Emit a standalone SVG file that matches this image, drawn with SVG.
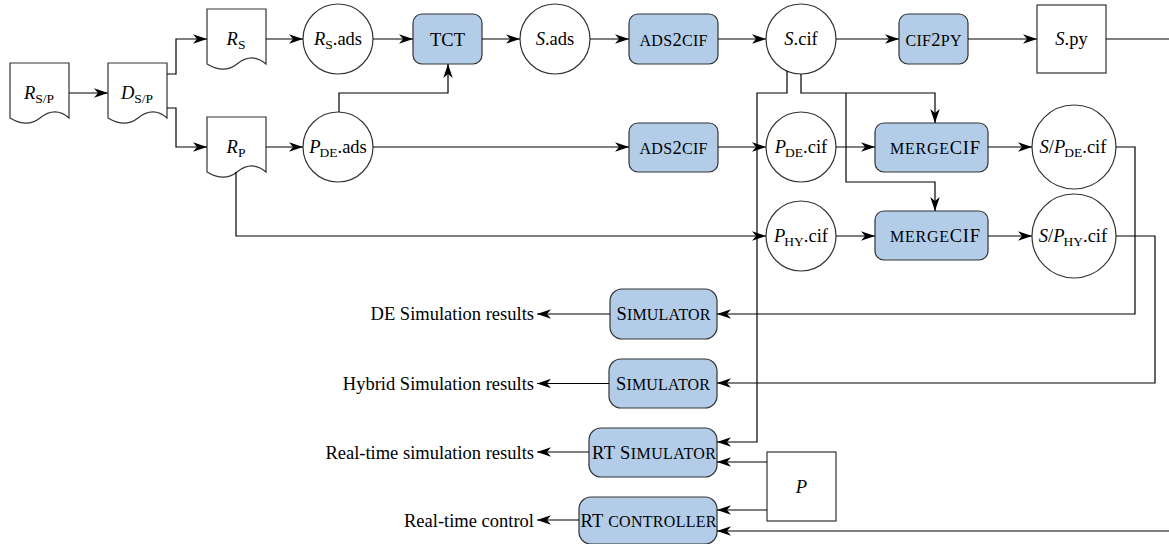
<svg xmlns="http://www.w3.org/2000/svg" width="1169" height="544" viewBox="0 0 1169 544">
<style>
text{font-family:"Liberation Serif","Times New Roman",serif;font-size:18.5px;fill:#000}
tspan{font-family:"Liberation Serif","Times New Roman",serif}
.c{text-anchor:middle}
.r{text-anchor:end}
.i{font-style:italic}
.sc{font-size:16px}
.sub{font-size:13.5px}
.doc,.circ,.sq{fill:#fff;stroke:#333;stroke-width:1.2}
.box{fill:#b3cde9;stroke:#333;stroke-width:1.2}
.con path{fill:none;stroke:#000;stroke-width:1.2}
.con path.a{marker-end:url(#ah)}
</style>
<defs>
<marker id="ah" markerUnits="userSpaceOnUse" markerWidth="16" markerHeight="12" refX="14" refY="5" orient="auto" overflow="visible">
<path d="M0,0.3 L14,5 L0,9.7 L4,5 z" fill="#000"/>
</marker>
</defs>
<rect width="1169" height="544" fill="#fff"/>

<g id="RSP"><path class="doc" d="M10,63 H69 V118 C60,110 50,110 40,118 C30,126 20,124 10,118 Z"/>
<text class="c" x="39" y="99"><tspan class="i">R</tspan><tspan class="sub" dy="4">S/P</tspan></text></g>
<g id="DSP"><path class="doc" d="M108,63 H167 V118 C158,110 148,110 138,118 C128,126 118,124 108,118 Z"/>
<text class="c" x="137" y="99"><tspan class="i">D</tspan><tspan class="sub" dy="4">S/P</tspan></text></g>
<g id="RS"><path class="doc" d="M207,9 H266 V64 C257,56 247,56 237,64 C227,72 217,70 207,64 Z"/>
<text class="c" x="236" y="45"><tspan class="i">R</tspan><tspan class="sub" dy="4">S</tspan></text></g>
<g id="RP"><path class="doc" d="M207,117 H266 V172 C257,164 247,164 237,172 C227,180 217,178 207,172 Z"/>
<text class="c" x="236" y="153"><tspan class="i">R</tspan><tspan class="sub" dy="4">P</tspan></text></g>

<g id="RSads"><circle class="circ" cx="338" cy="39" r="35"/>
<text class="c" x="338" y="45"><tspan class="i">R</tspan><tspan class="sub" dy="4">S</tspan><tspan dy="-4">.ads</tspan></text></g>
<g id="TCT"><rect class="box" x="413" y="14" width="69" height="50" rx="9"/>
<text class="c" x="447.5" y="45.5">TCT</text></g>
<g id="Sads"><circle class="circ" cx="555" cy="39" r="35"/>
<text class="c" x="555" y="45"><tspan class="i">S</tspan>.ads</text></g>
<g id="ads2cif1"><rect class="box" x="629" y="14" width="89" height="50" rx="9"/>
<text class="c" x="673.5" y="45.5" textLength="68"><tspan class="sc">ADS</tspan>2<tspan class="sc">CIF</tspan></text></g>
<g id="Scif"><circle class="circ" cx="801" cy="39" r="35"/>
<text class="c" x="801" y="45"><tspan class="i">S</tspan>.cif</text></g>
<g id="cif2py"><rect class="box" x="899" y="14" width="69" height="50" rx="9"/>
<text class="c" x="933.5" y="45.5" textLength="56"><tspan class="sc">CIF</tspan>2<tspan class="sc">PY</tspan></text></g>
<g id="Spy"><rect class="sq" x="1037" y="5" width="69" height="68"/>
<text class="c" x="1071.5" y="45"><tspan class="i">S</tspan>.py</text></g>

<g id="PDEads"><circle class="circ" cx="338" cy="147" r="35"/>
<text class="c" x="338" y="153"><tspan class="i">P</tspan><tspan class="sub" dy="4" dx="-1">DE</tspan><tspan dy="-4">.ads</tspan></text></g>
<g id="ads2cif2"><rect class="box" x="629" y="123" width="89" height="49" rx="9"/>
<text class="c" x="673.5" y="154" textLength="68"><tspan class="sc">ADS</tspan>2<tspan class="sc">CIF</tspan></text></g>
<g id="PDEcif"><circle class="circ" cx="801" cy="147" r="35"/>
<text class="c" x="801" y="153"><tspan class="i">P</tspan><tspan class="sub" dy="4" dx="-1">DE</tspan><tspan dy="-4">.cif</tspan></text></g>
<g id="merge1"><rect class="box" x="875" y="123" width="113" height="49" rx="9"/>
<text class="c" x="935" y="154" textLength="90"><tspan class="sc">MERGE</tspan>CIF</text></g>
<g id="SPDEcif"><circle class="circ" cx="1074" cy="147" r="42"/>
<text class="c" x="1073" y="153"><tspan class="i">S</tspan>/<tspan class="i">P</tspan><tspan class="sub" dy="4" dx="-1">DE</tspan><tspan dy="-4">.cif</tspan></text></g>

<g id="PHYcif"><circle class="circ" cx="801" cy="236" r="35"/>
<text class="c" x="801" y="242"><tspan class="i">P</tspan><tspan class="sub" dy="4" dx="-1">HY</tspan><tspan dy="-4">.cif</tspan></text></g>
<g id="merge2"><rect class="box" x="875" y="211" width="113" height="49" rx="9"/>
<text class="c" x="935" y="242" textLength="90"><tspan class="sc">MERGE</tspan>CIF</text></g>
<g id="SPHYcif"><circle class="circ" cx="1074" cy="236" r="42"/>
<text class="c" x="1073" y="242"><tspan class="i">S</tspan>/<tspan class="i">P</tspan><tspan class="sub" dy="4" dx="-1">HY</tspan><tspan dy="-4">.cif</tspan></text></g>

<g id="sim1"><rect class="box" x="610" y="289" width="107" height="50" rx="12"/>
<text class="c" x="663.5" y="320" textLength="94">S<tspan class="sc">IMULATOR</tspan></text></g>
<g id="sim2"><rect class="box" x="609" y="359" width="108" height="49" rx="12"/>
<text class="c" x="663" y="389.5" textLength="94">S<tspan class="sc">IMULATOR</tspan></text></g>
<g id="rtsim"><rect class="box" x="589" y="428" width="128" height="49" rx="12"/>
<text class="c" x="654" y="458.5" textLength="124">RT S<tspan class="sc">IMULATOR</tspan></text></g>
<g id="rtctrl"><rect class="box" x="579" y="497" width="138" height="47" rx="12"/>
<text class="c" x="648.5" y="526.5" textLength="136">RT <tspan class="sc">CONTROLLER</tspan></text></g>
<g id="P"><rect class="sq" x="767" y="452" width="69" height="69"/>
<text class="c i" x="801.5" y="493">P</text></g>

<g id="out1"><text class="r" x="534" y="320">DE Simulation results</text></g>
<g id="out2"><text class="r" x="534" y="389.5">Hybrid Simulation results</text></g>
<g id="out3"><text class="r" x="534" y="458.5">Real-time simulation results</text></g>
<g id="out4"><text class="r" x="534" y="526.5">Real-time control</text></g>

<g id="connectors" class="con">
<path class="a" d="M69,93 H108"/>
<path class="a" d="M167,74 H176 V39 H207"/>
<path class="a" d="M167,108 H176 V147 H207"/>
<path class="a" d="M266,39 H303"/>
<path class="a" d="M373,39 H413"/>
<path class="a" d="M482,39 H520"/>
<path class="a" d="M590,39 H629"/>
<path class="a" d="M718,39 H766"/>
<path class="a" d="M836,39 H899"/>
<path class="a" d="M968,39 H1037"/>
<path d="M1106,39 H1169"/>
<path class="a" d="M266,147 H303"/>
<path class="a" d="M339,112 V93 H448 V64"/>
<path class="a" d="M373,147 H629"/>
<path class="a" d="M718,147 H766"/>
<path class="a" d="M836,147 H875"/>
<path class="a" d="M988,147 H1032"/>
<path class="a" d="M236,172 V236 H766"/>
<path class="a" d="M836,236 H875"/>
<path class="a" d="M988,236 H1032"/>
<path class="a" d="M801,74 V93 H935 V123"/>
<path class="a" d="M846,93 V182 H935 V211"/>
<path class="a" d="M787,71 V93 H757 V442 H717"/>
<path class="a" d="M1116,147 H1135 V314 H717"/>
<path class="a" d="M1116,236 H1155 V383 H717"/>
<path class="a" d="M767,462 H717"/>
<path class="a" d="M767,510 H717"/>
<path class="a" d="M1169,531 H717"/>
<path class="a" d="M610,314 H537"/>
<path class="a" d="M609,383.5 H537"/>
<path class="a" d="M589,452 H537"/>
<path class="a" d="M579,520 H537"/>
</g>
</svg>
